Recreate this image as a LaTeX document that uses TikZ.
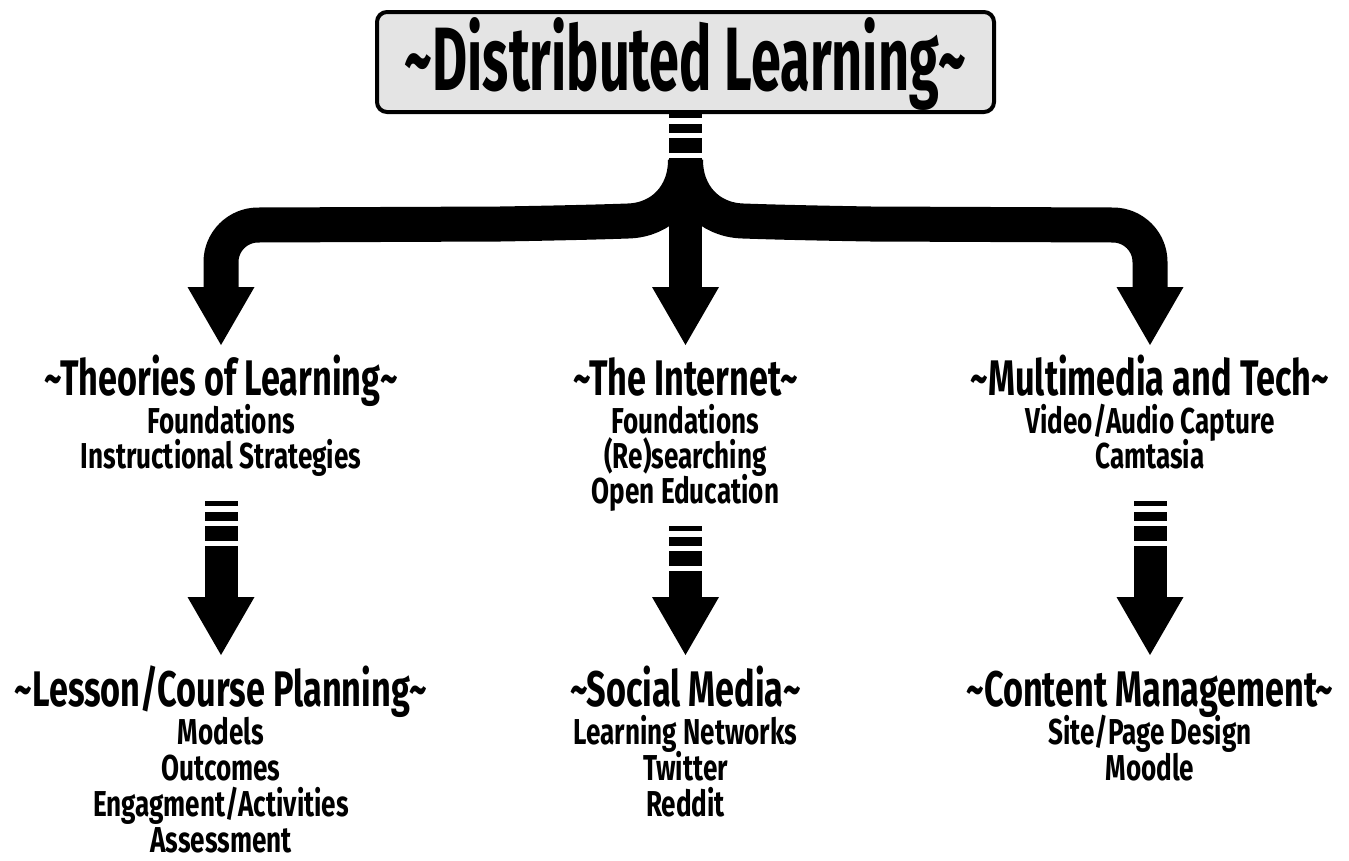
\documentclass[tikz,border=0pt]{standalone}
\usepackage{fontspec}
\newfontfamily\oswT[FakeStretch=0.6]{Fira Sans}
\newfontfamily\oswH[FakeStretch=0.685]{Fira Sans}
\newfontfamily\oswS[FakeStretch=0.725]{Fira Sans}
\usetikzlibrary{calc}
\definecolor{boxgray}{HTML}{E4E4E4}
\tikzset{
  head/.style={font=\oswH\bfseries\fontsize{50}{50}\selectfont, inner sep=0pt, anchor=base},
  sub/.style={font=\oswS\bfseries\fontsize{36}{36}\selectfont, inner sep=0pt, anchor=base},
  titlebox/.style={draw=black, line width=4pt, fill=boxgray, rounded corners=10pt,
    minimum width=617pt, text height=78pt, text depth=22pt, inner sep=0pt,
    font=\oswT\bfseries\fontsize{90}{90}\selectfont},
  stem/.style={draw=black, line width=33pt, line cap=butt},
  band/.style={draw=black, line width=35pt, line cap=butt, line join=round},
  stripes/.pic={
    \fill[black] (-16.5,0) rectangle (16.5,5);
    \fill[black] (-16.5,11) rectangle (16.5,20);
    \fill[black] (-16.5,25) rectangle (16.5,40);
  },
  arrowhead/.pic={\fill[black] (-33.5,0) -- (33.5,0) -- (0,58) -- cycle;}
}
\begin{document}
\begin{tikzpicture}[x=1pt,y=-1pt]
\useasboundingbox (0,0) rectangle (1349,860);

% title
\node[titlebox, anchor=base] (title) at (685.5,90) {\textasciitilde Distributed Learning\textasciitilde};

% main trunk
\coordinate (trunk) at (685.5,113);
\coordinate (hubM) at (685.5,287);
\coordinate (hubL) at (221,287);
\coordinate (hubR) at (1150,287);
\pic at (trunk) {stripes};
\draw[stem] ($(trunk)+(0,45)$) -- ($(hubM)+(0,1)$);
\draw[band] (685.5,160) .. controls (685.5,195) and (662,220) .. (628,221)
  .. controls (600,222) and (560,223) .. (500,224) -- (258,225)
  .. controls (237.6,225) and (221,241.6) .. (221,262) -- ($(hubL)+(0,3)$);
\draw[band] (685.5,160) .. controls (685.5,195) and (709,220) .. (743,221)
  .. controls (771,222) and (811,223) .. (871,224) -- (1113,225)
  .. controls (1133.4,225) and (1150,241.6) .. (1150,262) -- ($(hubR)+(0,3)$);
\pic at (hubM) {arrowhead};
\pic at (hubL) {arrowhead};
\pic at (hubR) {arrowhead};

% first row
\node[head] (theo) at (221,395) {\textasciitilde Theories of Learning\textasciitilde};
\node[sub] (theo1) at (221,433) {Foundations};
\node[sub] (theo2) at (221,468) {Instructional Strategies};

\node[head] (inet) at (685.5,395) {\textasciitilde The Internet\textasciitilde};
\node[sub] (inet1) at (685.5,433) {Foundations};
\node[sub] (inet2) at (685.5,468) {(Re)searching};
\node[sub] (inet3) at (685.5,503) {Open Education};

\node[head] (mult) at (1150,395) {\textasciitilde Multimedia and Tech\textasciitilde};
\node[sub] (mult1) at (1150,433) {Video/Audio Capture};
\node[sub] (mult2) at (1150,468) {Camtasia};

% small arrows
\coordinate (sL) at (221,501);
\coordinate (sM) at (685.5,526);
\coordinate (sR) at (1150,501);
\coordinate (tL) at (221,597);
\coordinate (tM) at (685.5,597);
\coordinate (tR) at (1150,597);
\foreach \s/\t in {sL/tL, sM/tM, sR/tR}{
  \pic at (\s) {stripes};
  \draw[stem] ($(\s)+(0,45)$) -- ($(\t)+(0,1)$);
  \pic at (\t) {arrowhead};
}

% second row
\node[head] (less) at (221,706) {\textasciitilde Lesson/Course Planning\textasciitilde};
\node[sub] (less1) at (221,744) {Models};
\node[sub] (less2) at (221,780) {Outcomes};
\node[sub] (less3) at (221,816) {Engagment/Activities};
\node[sub] (less4) at (221,852) {Assessment};

\node[head] (soc) at (685.5,706) {\textasciitilde Social Media\textasciitilde};
\node[sub] (soc1) at (685.5,744) {Learning Networks};
\node[sub] (soc2) at (685.5,780) {Twitter};
\node[sub] (soc3) at (685.5,816) {Reddit};

\node[head] (cont) at (1150,706) {\textasciitilde Content Management\textasciitilde};
\node[sub] (cont1) at (1150,744) {Site/Page Design};
\node[sub] (cont2) at (1150,780) {Moodle};
\end{tikzpicture}
\end{document}
